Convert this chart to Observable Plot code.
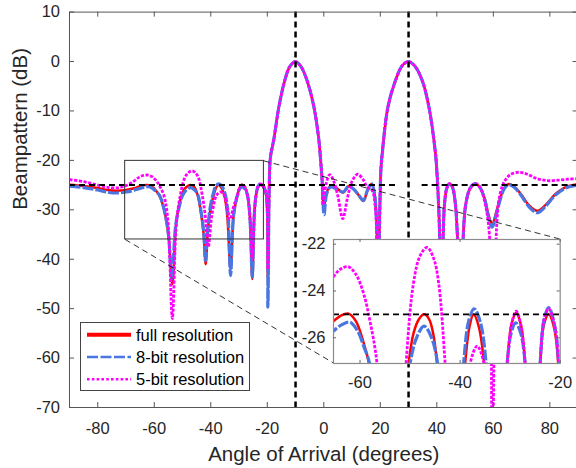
<!DOCTYPE html>
<html><head><meta charset="utf-8">
<script src="https://cdn.jsdelivr.net/npm/d3@7"></script>
<script src="https://cdn.jsdelivr.net/npm/@observablehq/plot@0.6"></script>
<style>
body{margin:0;background:#fff;}
#wrap{position:relative;width:576px;height:468px;overflow:hidden;font-family:"Liberation Sans",Arial,Helvetica,sans-serif;}
#wrap svg{position:absolute;overflow:visible;max-width:none !important;}
#wrap svg.inset{background:transparent !important;}
</style></head><body><div id="wrap"></div>
<script>
// ---------- data ----------
const seriesNames = ["full resolution", "8-bit resolution", "5-bit resolution"];
const xTicks = [-80, -60, -40, -20, 0, 20, 40, 60, 80];
const yTicks = [-70, -60, -50, -40, -30, -20, -10, 0, 10];
const insetXTicks = [-60, -40, -20];
const insetYTicks = [-26, -24, -22];
const targetAngles = [-10, 30];
const sidelobeLevel = -25;
const sidelobeSpans = [[-90, 25.4], [34.8, 90]];
const zoomBox = {x1: -70.3, x2: -21.2, y1: -36, y2: -20.1};

// main lobes (all three resolutions coincide here)
const mainLobeA = [[-19.3,-25],[-18.9,-19.4],[-17.7,-15.8],[-15.9,-9.2],[-13.8,-3.8],[-12,-1.0],[-10,0],[-8,-1.1],[-5.9,-3.9],[-3.5,-9.2],[-1.8,-15.6],[-1.2,-19.4],[-0.6,-24]];
const mainLobeB = [[20.2,-22],[20.7,-18.5],[22.7,-9.2],[25.4,-3.8],[27.8,-0.8],[30,0],[32.2,-0.9],[34.8,-3.8],[37.2,-9.2],[39.5,-18.5],[40.1,-23]];

const fullLeft = [[-90,-24.95],[-85,-25.2],[-80,-25.6],[-76,-26.05],[-73,-26.15],[-70,-26.0],[-67.5,-25.7],[-65.3,-25.29],[-63.8,-25.05],[-62.3,-24.97],[-60.8,-25.3],[-59.3,-26.2],[-58.2,-27.1],[-56.5,-30],[-55,-35],[-53.6,-45],[-52.3,-33],[-51.2,-29],[-50.3,-27.1],[-49.3,-25.8],[-48.2,-25.2],[-47.2,-25.0],[-46.2,-25.2],[-45.4,-25.8],[-44.6,-27.1],[-43.5,-30.5],[-42.5,-35],[-41.8,-41],[-41,-34],[-40,-29.5],[-39,-27.1],[-38.1,-25.5],[-37.3,-25.0],[-36.3,-25.5],[-35.2,-27.1],[-34.2,-31],[-33,-42],[-31.9,-31],[-30.6,-27.1],[-29.7,-25.4],[-28.8,-24.93],[-27.9,-25.4],[-27,-27.1],[-26.2,-31],[-25.3,-44],[-24.6,-31],[-24.0,-27.1],[-23.2,-25.4],[-22.3,-25.0],[-21.3,-25.5],[-20.4,-27.1],[-19.8,-44]];
const fullMid = [[0,-29.5],[1,-26.5],[2.3,-25.2],[4.5,-25.6],[6.9,-26.5],[8.8,-25.2],[10.5,-25.8],[12.3,-27],[14,-28.2],[15.5,-26],[16.9,-24.8],[18,-27],[18.7,-33],[19.2,-45]];
const fullRight = [[40.7,-30],[41.7,-45],[42.7,-29],[43.6,-25.6],[44.6,-24.8],[45.6,-25.6],[46.6,-29],[48.4,-45],[50.2,-29],[52,-25.5],[53.7,-24.8],[55.3,-25.5],[57,-27.8],[58.3,-31],[59.6,-33],[61,-30.5],[62.5,-27.5],[64,-25.5],[65.5,-24.8],[67.5,-25.4],[70,-27],[72.5,-29],[75.5,-30.2],[78.5,-29],[82,-26.8],[86,-25.3],[90,-24.85]];

const bit8Left = [[-90,-25.2],[-85,-25.5],[-80,-26.0],[-76,-26.5],[-73,-26.6],[-70,-26.4],[-67.5,-26.1],[-65.3,-25.71],[-63.7,-25.45],[-62.0,-25.33],[-60.5,-25.7],[-59.2,-26.4],[-58.1,-27.1],[-56.5,-30],[-55,-35],[-53.8,-44],[-52.4,-33],[-51,-29],[-50.0,-27.1],[-48.7,-26.0],[-47.2,-25.5],[-45.7,-26.0],[-44.5,-27.1],[-43.4,-30.5],[-42.5,-34.5],[-41.9,-40.3],[-41.1,-34],[-40.2,-29.5],[-39.3,-27.1],[-38.3,-25.3],[-37.2,-24.76],[-36.0,-25.3],[-34.8,-27.1],[-33.9,-31],[-33.0,-43.3],[-31.9,-31],[-30.6,-27.1],[-29.8,-25.8],[-28.9,-25.36],[-27.9,-25.8],[-27,-27.1],[-26.2,-31],[-25.3,-43.6],[-24.6,-31],[-24.0,-27.1],[-23.2,-25.2],[-22.3,-24.71],[-21.3,-25.3],[-20.3,-27.1],[-19.8,-49.7]];
const bit8Mid = [[0.1,-31],[1,-26.8],[2.4,-25.4],[4.5,-25.8],[6.9,-26.4],[8.8,-25.2],[10.5,-25.8],[12.3,-27],[14,-28.1],[15.5,-26],[16.9,-24.7],[18,-27],[18.7,-33],[19.2,-45]];
const bit8Right = [[40.7,-30],[41.7,-45],[42.7,-29],[43.6,-25.5],[44.6,-24.7],[45.6,-25.5],[46.6,-29],[48.4,-45],[50.2,-29],[52,-25.4],[53.7,-24.7],[55.3,-25.5],[57,-28],[58.3,-31.5],[59.6,-33.5],[61,-31],[62.5,-27.8],[64,-25.6],[65.5,-24.9],[67.5,-25.5],[70,-27.2],[72.5,-29.3],[75.5,-30.6],[78.5,-29.3],[82,-27],[86,-25.5],[90,-25.0]];

const bit5Left = [[-90,-23.9],[-85,-24.3],[-80,-25.0],[-76,-25.5],[-73,-25.55],[-70,-25.1],[-67.5,-24.3],[-65.3,-23.39],[-63.8,-23.05],[-62.3,-22.97],[-60.8,-23.3],[-59.3,-24.1],[-58,-25.3],[-56.6,-27.1],[-55.2,-32],[-53.6,-52],[-52.2,-33],[-50.8,-27.1],[-49.3,-23.64],[-48,-22.5],[-46.6,-22.14],[-45.3,-22.6],[-44.3,-23.64],[-43,-27.1],[-42,-31],[-40.9,-37.5],[-39.6,-31],[-38,-27.1],[-36.6,-26.36],[-35.2,-27.1],[-34.2,-29.5],[-33.2,-32],[-32,-29.5],[-30.6,-27.1],[-29.7,-25.4],[-28.8,-24.86],[-27.9,-25.4],[-27,-27.1],[-26.2,-31],[-25.3,-40],[-24.6,-31],[-24,-27.1],[-23.2,-25.2],[-22.3,-24.76],[-21.3,-25.3],[-20.3,-27.1],[-19.8,-42]];
const bit5Mid = [[-0.3,-29],[0.8,-24.8],[2.1,-22.9],[3.5,-24.2],[5,-27.3],[6.7,-31.8],[8.4,-27.5],[10,-24.2],[12,-22.8],[13.8,-23.8],[15.4,-25.4],[17.1,-26.1],[18.3,-30],[19.1,-45]];
const bit5Right = [[40.7,-30],[41.7,-45],[42.7,-29],[43.6,-25.5],[44.6,-24.7],[45.6,-25.5],[46.6,-29],[48.4,-45],[50.2,-29],[52,-25.4],[53.7,-24.7],[55.3,-25.5],[57,-28.5],[58.6,-35],[59.6,-80],[61.3,-32],[62.5,-26.5],[64,-24.2],[66,-22.9],[69,-22.4],[72,-22.8],[75,-23.6],[79.1,-24.1],[83,-24.0],[86.5,-23.8],[90,-23.7]];

// ---------- build table ----------
const seriesPts = {
  "full resolution": [...fullLeft, ...mainLobeA, ...fullMid, ...mainLobeB, ...fullRight],
  "8-bit resolution": [...bit8Left, ...mainLobeA, ...bit8Mid, ...mainLobeB, ...bit8Right],
  "5-bit resolution": [...bit5Left, ...mainLobeA, ...bit5Mid, ...mainLobeB, ...bit5Right]
};
const rows = seriesNames.flatMap(s => seriesPts[s].map(([angle, db]) => ({series: s, angle, db})));

const style = {
  "full resolution": {stroke: "#ff0000", strokeWidth: 2.5, dash: "none", legendWidth: 4, legendDash: "none"},
  "8-bit resolution": {stroke: "#4a76e2", strokeWidth: 3.2, dash: "11,2", legendWidth: 2.6, legendDash: "11,2.5"},
  "5-bit resolution": {stroke: "#ff00ff", strokeWidth: 2.8, dash: "3.2,1.5", legendWidth: 2.6, legendDash: "2.6,2.2"}
};
const drawOrder = ["full resolution", "8-bit resolution", "5-bit resolution"];
const font = '"Liberation Sans", Arial, Helvetica, sans-serif';
const ink = "#262626";

// ---------- main plot ----------
const W = 576, H = 468;
const M = {left: 69, right: -1.6, top: 11.6, bottom: 61};
const xDom = [-90, 90], yDom = [-70, 10];
const xMain = d3.scaleLinear(xDom, [M.left, W - M.right]);
const yMain = d3.scaleLinear(yDom, [H - M.bottom, M.top]);
const tickPx = 5;
const tx = tickPx / (xMain(1) - xMain(0));
const ty = tickPx / (yMain(0) - yMain(1));

// inset placement (pixels) and its corners in main-data coordinates
const insetBox = {left: 333.3, top: 238.7, right: 560, bottom: 362.7};
const insetCorners = {
  xl: xMain.invert(insetBox.left), xr: xMain.invert(insetBox.right),
  yt: yMain.invert(insetBox.top), yb: yMain.invert(insetBox.bottom)
};
const connectors = [
  {x1: zoomBox.x2, y1: zoomBox.y2, x2: insetCorners.xr, y2: insetCorners.yt},
  {x1: zoomBox.x1, y1: zoomBox.y1, x2: insetCorners.xl, y2: insetCorners.yb}
];

const lineMarks = () => drawOrder.map(s => Plot.line(rows.filter(r => r.series === s), {
  x: "angle", y: "db", stroke: style[s].stroke, strokeWidth: style[s].strokeWidth,
  strokeDasharray: style[s].dash, strokeLinecap: "butt", curve: "catmull-rom", clip: true, strokeLinejoin: "round"
}));

const main = Plot.plot({
  width: W, height: H,
  marginLeft: M.left, marginRight: M.right, marginTop: M.top, marginBottom: M.bottom,
  style: {fontFamily: font, fontSize: "16px", color: ink, background: "white"},
  x: {domain: xDom}, y: {domain: yDom},
  marks: [
    ...lineMarks(),
    Plot.ruleY(sidelobeSpans, {y: () => sidelobeLevel, x1: d => d[0], x2: d => d[1], stroke: "#000", strokeWidth: 2, strokeDasharray: "6,4"}),
    Plot.ruleX(targetAngles, {x: d => d, stroke: "#000", strokeWidth: 2.5, strokeDasharray: "6,4"}),
    Plot.rect([zoomBox], {x1: "x1", x2: "x2", y1: "y1", y2: "y2", fill: "none", stroke: "#333", strokeWidth: 1}),
    Plot.link(connectors, {x1: "x1", y1: "y1", x2: "x2", y2: "y2", stroke: "#000", strokeWidth: 0.8, strokeDasharray: "6,4"}),
    Plot.frame({stroke: "#555", strokeWidth: 1}),
    Plot.ruleX(xTicks, {x: d => d, y1: yDom[0], y2: yDom[0] + ty, stroke: "#555"}),
    Plot.ruleX(xTicks, {x: d => d, y1: yDom[1], y2: yDom[1] - ty, stroke: "#555"}),
    Plot.ruleY(yTicks, {y: d => d, x1: xDom[0], x2: xDom[0] + tx, stroke: "#555"}),
    Plot.ruleY(yTicks, {y: d => d, x1: xDom[1], x2: xDom[1] - tx, stroke: "#555"}),
    Plot.axisX(xTicks, {tickSize: 0, tickPadding: 15, tickFormat: d => String(d), fontSize: 16.5, fill: ink, label: null}),
    Plot.axisY(yTicks, {tickSize: 0, tickPadding: 9.5, tickFormat: d => String(d), fontSize: 16.5, fill: ink, label: null}),
    Plot.text(["Angle of Arrival (degrees)"], {frameAnchor: "bottom", dy: 53, lineAnchor: "bottom", fontSize: 20.5, fill: ink, text: d => d}),
    Plot.text(["Beampattern (dB)"], {frameAnchor: "left", dx: -57, rotate: -90, lineAnchor: "top", fontSize: 20.5, fill: ink, text: d => d})
  ]
});
main.style.left = "0px"; main.style.top = "0px";
document.getElementById("wrap").appendChild(main);

// ---------- inset ----------
const IM = {left: 40, right: 8, top: 6, bottom: 30};
const iw = insetBox.right - insetBox.left, ih = insetBox.bottom - insetBox.top;
const ixDom = [-65.3, -20], iyDom = [-27.1, -21.8];
const ixs = d3.scaleLinear(ixDom, [0, iw]), iys = d3.scaleLinear(iyDom, [ih, 0]);
const itx = 3 / (ixs(1) - ixs(0)), ity = 3 / (iys(0) - iys(1));
const inset = Plot.plot({
  width: iw + IM.left + IM.right, height: ih + IM.top + IM.bottom,
  marginLeft: IM.left, marginRight: IM.right, marginTop: IM.top, marginBottom: IM.bottom,
  style: {fontFamily: font, fontSize: "16px", color: ink, background: "transparent"},
  x: {domain: ixDom}, y: {domain: iyDom},
  marks: [
    Plot.frame({fill: "white", stroke: "none"}),
    ...lineMarks(),
    Plot.ruleY([sidelobeLevel], {stroke: "#000", strokeWidth: 1.8, strokeDasharray: "6,4"}),
    Plot.frame({stroke: "#8a8a8a", strokeWidth: 1.2}),
    Plot.ruleX(insetXTicks, {x: d => d, y1: iyDom[0], y2: iyDom[0] + ity, stroke: "#666"}),
    Plot.ruleX(insetXTicks, {x: d => d, y1: iyDom[1], y2: iyDom[1] - ity, stroke: "#666"}),
    Plot.ruleY(insetYTicks, {y: d => d, x1: ixDom[0], x2: ixDom[0] + itx, stroke: "#666"}),
    Plot.ruleY(insetYTicks, {y: d => d, x1: ixDom[1], x2: ixDom[1] - itx, stroke: "#666"}),
    Plot.axisX(insetXTicks, {tickSize: 0, tickPadding: 13, tickFormat: d => String(d), fontSize: 16.5, fill: ink, label: null}),
    Plot.axisY(insetYTicks, {tickSize: 0, tickPadding: 8, tickFormat: d => String(d), fontSize: 16.5, fill: ink, label: null})
  ]
});
inset.classList.add("inset");
inset.style.left = (insetBox.left - IM.left) + "px";
inset.style.top = (insetBox.top - IM.top) + "px";
document.getElementById("wrap").appendChild(inset);

// ---------- legend ----------
const L = {left: 80, top: 322.7, width: 169, height: 68, row0: 12.3, rowStep: 22.2, lx0: 7, lx1: 51, tx: 56};
const leg = d3.create("svg").attr("width", L.width + 2).attr("height", L.height + 2)
  .style("left", (L.left - 0.5) + "px").style("top", (L.top - 0.5) + "px");
leg.append("rect").attr("x", 0.5).attr("y", 0.5).attr("width", L.width).attr("height", L.height)
  .attr("fill", "white").attr("stroke", "#444").attr("stroke-width", 1);
seriesNames.forEach((s, i) => {
  const y = 0.5 + L.row0 + i * L.rowStep;
  leg.append("line").attr("x1", L.lx0).attr("x2", L.lx1).attr("y1", y).attr("y2", y)
    .attr("stroke", style[s].stroke).attr("stroke-width", style[s].legendWidth)
    .attr("stroke-dasharray", style[s].legendDash);
  leg.append("text").attr("x", L.tx).attr("y", y).attr("dy", "0.35em")
    .attr("font-family", font).attr("font-size", 16.5).attr("fill", "#000").text(s);
});
document.getElementById("wrap").appendChild(leg.node());
</script>
</body></html>
